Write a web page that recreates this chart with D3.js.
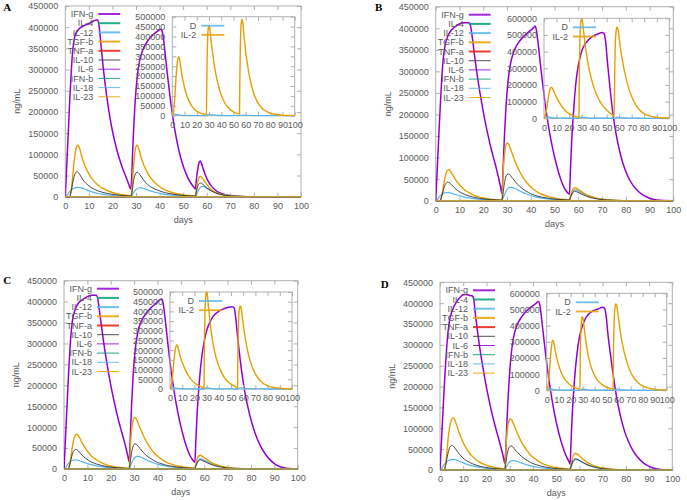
<!DOCTYPE html>
<html><head><meta charset="utf-8">
<script src="https://cdn.jsdelivr.net/npm/d3@7"></script>
<style>
body{margin:0;background:#fff}
svg{display:block}
text{font-family:"Liberation Sans",Arial,sans-serif}
</style>
</head><body>
<svg id="chart" width="687" height="500"></svg>
<script>
// ---------- tick labels / categories ----------
const xTicks = [0,10,20,30,40,50,60,70,80,90,100];
const yTicksMain = [0,50000,100000,150000,200000,250000,300000,350000,400000,450000];
const yTicksInset500 = [0,50000,100000,150000,200000,250000,300000,350000,400000,450000,500000];
const yTicksInset600 = [0,100000,200000,300000,400000,500000,600000];
const mainNames = ["IFN-g","IL-4","IL-12","TGF-b","TNF-a","IL-10","IL-6","IFN-b","IL-18","IL-23"];
const insetNames = ["D","IL-2"];
const ZERO = [[0,0],[100,0]];

// ---------- Panel A ----------
const A_IFNg = [[0,0],[0.5,60000],[1,120000],[1.5,180000],[2,240000],[2.5,292000],[3,335000],[3.5,362000],[4,378000],[5,390000],[6,397000],[7,401000],[9,406000],[11,411000],[13,417000],[13.8,417000],[14.5,395000],[15.2,355000],[16,310000],[17,262000],[18,220000],[19,185000],[20,155000],[21,130000],[22,108000],[23,89000],[24,72000],[25,57000],[26,43000],[27,28000],[27.8,18000],
[28.2,50000],[28.6,110000],[29,160000],[29.5,212000],[30,252000],[30.6,287000],[31.5,320000],[33,348000],[35,368000],[37,381000],[39,390000],[40.5,395000],[41,392000],[41.7,370000],[42.5,330000],[43.5,280000],[44.5,233000],[45.5,192000],[46.5,157000],[47.5,127000],[48.5,102000],[49.5,82000],[50.5,65000],[51.5,51000],[52.5,39000],[53.5,30000],[54.5,23000],[55.2,18000],
[55.6,40000],[56.1,62000],[56.7,79000],[57.2,84000],[57.8,78000],[58.6,64000],[59.5,50000],[60.5,38000],[61.5,29000],[62.5,22000],[64,14000],[66,8000],[68,4500],[71,2000],[75,600],[80,100],[85,0],[100,0]];
const A_TGFb = [[0,0],[1.8,0],[2.5,15000],[3,40000],[3.5,70000],[4,95000],[4.5,112000],[5,120000],[5.4,122000],[6,115000],[7,95000],[8,78000],[9,65000],[10,54000],[11,45000],[12,38000],[13,32000],[14,27000],[16,19500],[18,14000],[20,10000],[22,7000],[24,5000],[26,3500],[27.9,2500],
[28.3,20000],[28.8,60000],[29.3,95000],[29.8,115000],[30.4,122000],[31,116000],[32,96000],[33,79000],[34,66000],[35,55000],[36,46000],[37,39000],[38,33000],[39,28000],[41,20000],[43,14500],[45,10500],[47,7500],[49,5300],[51,3800],[53,2700],[55.2,2000],
[55.6,15000],[56.2,35000],[56.8,46000],[57.3,48000],[58,45000],[59,37000],[60,29000],[61,22000],[62,17000],[63.5,11000],[65,7000],[67,4000],[70,1500],[74,400],[80,0],[100,0]];
const A_IL10 = [[0,0],[1.8,0],[2.3,8000],[3,28000],[3.5,42000],[4,52000],[4.6,58000],[5.1,59000],[5.8,55000],[6.5,49000],[7.5,40000],[8.5,33000],[9.5,28000],[10.5,23500],[12,18500],[14,13500],[16,10000],[18,7500],[20,5500],[23,3500],[26,2200],[27.9,1500],
[28.3,10000],[28.9,35000],[29.5,50000],[30,56000],[30.5,58000],[31.2,55000],[32,49000],[33,41000],[34,34000],[35,28500],[36.5,22500],[38,18000],[40,13500],[42,10000],[44,7500],[46,5500],[49,3500],[52,2200],[55.2,1500],
[55.6,12000],[56.3,26000],[57,31500],[57.5,32500],[58.2,30000],[59,26000],[60,21000],[61,17000],[62,13500],[63.5,9500],[65,6500],[67,4000],[70,2000],[74,700],[80,100],[100,0]];
const A_IL12 = [[0,0],[0.4,0],[1,5000],[1.6,10000],[2.5,15500],[3.5,19500],[4.5,21500],[5.5,22000],[6.5,21500],[7.5,19500],[8.5,17500],[9.5,15000],[11,12000],[12.5,9500],[14,7500],[16,5500],[18,4000],[20,2800],[23,1700],[26,1000],[27.9,700],
[28.3,3000],[28.8,8000],[29.4,13000],[30.2,18000],[31,20500],[32,21000],[33,20000],[34,18000],[35,16000],[36.5,13000],[38,10500],[40,7800],[42,5700],[44,4200],[47,2600],[50,1600],[53,1000],[55.2,700],
[55.6,4000],[56.2,12000],[57,20000],[57.8,24000],[58.5,24500],[59.3,22500],[60.5,18500],[62,14000],[63.5,10500],[65,7500],[67,5000],[70,2500],[74,1000],[80,200],[100,0]];
const A_IL2 = [[0,0],[1,20000],[2,90000],[3,190000],[4,265000],[5,298000],[5.6,295000],[6.5,262000],[7.5,220000],[9,170000],[10.5,130000],[12,100000],[14,70000],[16,48000],[18,33000],[20,23000],[22,16000],[24,11000],[26,8000],[27.9,6000],
[28.1,120000],[28.5,300000],[29,410000],[29.6,450000],[30.2,455000],[31,420000],[32,360000],[33.5,290000],[35,230000],[37,170000],[39,122000],[41,88000],[43,63000],[45,45000],[47,32000],[49,23000],[51,16000],[53,11000],[54.9,8000],
[55.1,150000],[55.6,350000],[56.2,460000],[56.9,488000],[57.6,470000],[58.5,410000],[60,320000],[61.5,255000],[63,200000],[65,145000],[67,105000],[69,76000],[71,55000],[73,40000],[75,29000],[78,18000],[81,11000],[85,6000],[90,2500],[95,1000],[100,500]];
const A_D = [[0,0],[0.5,6000],[1.5,8000],[3,7000],[5,4500],[8,2000],[12,800],[20,200],[27.9,100],[28.3,3000],[29.5,6500],[31,5000],[34,2500],[38,1000],[45,300],[55,100],[56,1500],[58,2500],[61,1200],[66,300],[75,0],[100,0]];

// ---------- Panel B ----------
const B_IFNg = [[0,0],[0.5,55000],[1,115000],[1.5,172000],[2,228000],[2.5,278000],[3,318000],[3.5,345000],[4,362000],[5,380000],[6,391000],[7,398000],[8,403000],[10,410000],[12,413000],[14,413000],[14.7,405000],[15.5,375000],[16.5,330000],[17.5,290000],[18.5,255000],[19.5,222000],[20.5,192000],[21.5,165000],[22.5,140000],[23.5,117000],[24.5,96000],[25.5,75000],[26.5,52000],[27.3,32000],[27.9,17000],
[28.2,50000],[28.6,108000],[29,158000],[29.5,210000],[30,250000],[30.6,285000],[31.5,318000],[33,348000],[35,368000],[37,381000],[39,391000],[41,400000],[41.8,405000],[42.3,398000],[43,370000],[44,320000],[45,272000],[46,228000],[47,190000],[48,156000],[49,127000],[50,102000],[51,80000],[52,60000],[53,44000],[54,31000],[55,22000],[56.3,15000],
[56.7,70000],[57.2,135000],[57.8,190000],[58.5,243000],[59.2,283000],[60,313000],[61,338000],[62,355000],[64,371000],[66,381000],[68,386000],[70,390000],[70.8,388000],[71.5,370000],[72.3,320000],[73.3,265000],[74.3,215000],[75.3,175000],[76.5,138000],[78,102000],[79.5,75000],[81,55000],[83,36000],[85,23000],[87,14000],[89,8000],[91,4000],[93,1800],[96,400],[100,0]];
const B_TGFb = [[0,0],[1.8,0],[2.5,10000],[3,25000],[3.5,42000],[4,56000],[4.6,67000],[5.3,72000],[6,70000],[7,61000],[8,52000],[9,44000],[10,37000],[11,31000],[12,26000],[13,22000],[14,18500],[16,13000],[18,9000],[20,6200],[22,4200],[24,2900],[26,2000],[27.9,1400],
[28.2,40000],[28.6,85000],[29.1,115000],[29.6,130000],[30.1,134000],[30.7,131000],[31.5,120000],[32.5,105000],[33.5,90000],[34.5,77000],[35.5,66000],[37,52000],[38.5,41000],[40,32000],[42,23000],[44,16500],[46,12000],[48,8500],[50,6000],[52,4200],[54,3000],[56.3,2000],
[56.7,10000],[57.3,22000],[58,28000],[58.6,30000],[59.3,28500],[60.3,25000],[61.5,20500],[63,15500],[64.5,11500],[66,8500],[68,5500],[70,3500],[73,1700],[77,600],[82,100],[100,0]];
const B_IL10 = [[0,0],[1.8,0],[2.3,6000],[3,20000],[3.6,32000],[4.3,40000],[5,43000],[5.7,42000],[6.5,38000],[7.5,32000],[8.5,27000],[9.5,22500],[10.5,19000],[12,15000],[14,11000],[16,8000],[18,5800],[20,4200],[23,2700],[26,1700],[27.9,1300],
[28.3,15000],[28.9,40000],[29.5,55000],[30.2,61500],[30.8,62000],[31.5,58000],[32.5,51000],[33.5,44000],[34.5,38000],[36,30000],[37.5,24000],[39,19000],[41,14000],[43,10500],[45,7800],[48,5000],[51,3200],[54,2100],[56.3,1500],
[56.7,8000],[57.3,16000],[58,20500],[58.6,22000],[59.3,21000],[60.3,18500],[61.5,15000],[63,11500],[64.5,8500],[66,6200],[68,4000],[70,2600],[73,1300],[77,500],[82,100],[100,0]];
const B_IL12 = [[0,0],[0.4,0],[1,5000],[1.8,10500],[2.7,15000],[3.7,18000],[4.8,19000],[6,18000],[7,16500],[8.5,14000],[10,11500],[12,8800],[14,6700],[16,5000],[18,3700],[21,2400],[24,1500],[27.9,900],
[28.3,5000],[28.9,14000],[29.6,22000],[30.4,28000],[31.2,31000],[32,31000],[33,29000],[34.5,25000],[36,21000],[38,16000],[40,12000],[42,9000],[44,6700],[47,4300],[50,2800],[53,1800],[56.3,1100],
[56.7,6000],[57.3,15000],[58,22000],[58.7,25000],[59.4,24500],[60.5,21500],[62,17000],[63.5,13000],[65,9800],[67,6700],[69,4500],[72,2400],[76,1000],[82,200],[100,0]];
const B_IL2 = [[0,0],[1,15000],[2,50000],[3,100000],[4,150000],[5,180000],[6,186000],[7,175000],[8.5,150000],[10,125000],[11.5,104000],[13,85000],[15,63000],[17,46000],[19,33000],[21,23000],[23,16000],[25,11000],[27.9,6000],
[28.1,200000],[28.6,450000],[29.2,560000],[29.8,595000],[30.5,590000],[31.5,530000],[32.5,460000],[34,380000],[35.5,315000],[37,262000],[39,205000],[41,160000],[43,125000],[45,97000],[47,75000],[49,57000],[51,42000],[53,29000],[55,18000],[56,12000],
[56.3,200000],[56.8,420000],[57.5,520000],[58.2,546000],[59,535000],[60,480000],[61,420000],[62.5,350000],[64,290000],[66,225000],[68,172000],[70,130000],[72,98000],[74,72000],[76,53000],[78,38000],[81,24000],[84,15000],[88,8000],[92,4000],[96,2000],[100,1000]];
const B_D = [[0,0],[0.5,7000],[1.5,9000],[3,8000],[5,5500],[8,3000],[12,1200],[20,300],[28,100],[28.5,3000],[30,6500],[32,5000],[35,2500],[40,800],[50,200],[56.3,100],[57,3000],[58.5,6500],[60.5,4500],[64,1800],[70,500],[80,100],[100,0]];

// ---------- Panel C ----------
const C_IFNg = [[0,0],[0.5,58000],[1,118000],[1.5,176000],[2,232000],[2.5,282000],[3,322000],[3.5,350000],[4,366000],[5,384000],[6,395000],[7,401000],[8,405000],[10,412000],[12,415000],[13.8,415000],[14.5,405000],[15.3,372000],[16.3,330000],[17.3,290000],[18.3,255000],[19.3,222000],[20.3,192000],[21.3,165000],[22.3,140000],[23.3,117000],[24.3,96000],[25.3,76000],[26.3,55000],[27.2,34000],[27.9,17000],
[28.2,50000],[28.6,110000],[29,162000],[29.5,215000],[30,256000],[30.6,291000],[31.5,325000],[33,352000],[35,371000],[37,384000],[39,394000],[41,404000],[41.8,406000],[42.3,400000],[43,372000],[44,322000],[45,272000],[46,228000],[47,190000],[48,156000],[49,127000],[50,102000],[51,80000],[52,60000],[53,44000],[54,31000],[55,22000],[56,16000],
[56.4,65000],[56.9,125000],[57.5,178000],[58.2,228000],[59,270000],[60,305000],[61,330000],[62.5,352000],[64,366000],[66,376000],[68,382000],[70,386000],[72,388000],[72.8,385000],[73.5,360000],[74.3,315000],[75.3,265000],[76.3,222000],[77.5,180000],[79,140000],[80.5,108000],[82,82000],[84,56000],[86,37000],[88,23000],[90,13000],[92,6500],[94,3000],[97,800],[100,0]];
const C_TGFb = [[0,0],[1.8,0],[2.5,12000],[3,30000],[3.5,50000],[4,66000],[4.6,78000],[5.3,83000],[6,81000],[7,71000],[8,60000],[9,51000],[10,43000],[11,36000],[12,30000],[13,25500],[14,21500],[16,15000],[18,10500],[20,7300],[22,5000],[24,3500],[26,2400],[27.9,1700],
[28.2,30000],[28.6,72000],[29.1,102000],[29.7,118000],[30.3,123000],[30.9,120000],[31.7,110000],[32.7,96000],[33.7,83000],[34.7,71000],[35.7,61000],[37,50000],[38.5,39000],[40,31000],[42,22500],[44,16000],[46,11500],[48,8200],[50,5800],[52,4100],[54,2900],[56,2000],
[56.4,11000],[57,24000],[57.6,31000],[58.2,33000],[58.9,31500],[59.9,27500],[61,23000],[62.5,17500],[64,13000],[65.5,9700],[67.5,6300],[70,3600],[73,1800],[77,600],[82,100],[100,0]];
const C_IL10 = [[0,0],[1.8,0],[2.3,7000],[3,23000],[3.6,36000],[4.3,44000],[5,47000],[5.7,45500],[6.5,41000],[7.5,34500],[8.5,29000],[9.5,24500],[10.5,20500],[12,16000],[14,11800],[16,8600],[18,6200],[20,4500],[23,2900],[26,1800],[27.9,1300],
[28.3,14000],[28.9,39000],[29.5,53000],[30.1,59500],[30.7,60000],[31.4,56500],[32.4,49500],[33.4,43000],[34.4,37000],[36,29000],[37.5,23500],[39,18500],[41,13700],[43,10200],[45,7600],[48,4900],[51,3100],[54,2000],[56,1500],
[56.4,8000],[57,16000],[57.6,20500],[58.2,22000],[58.9,21000],[59.9,18500],[61,15500],[62.5,11800],[64,8800],[65.5,6500],[67.5,4200],[70,2400],[73,1200],[77,400],[82,100],[100,0]];
const C_IL12 = [[0,0],[0.4,0],[1,6000],[1.8,12500],[2.7,17500],[3.7,21000],[4.8,22000],[6,21000],[7,19000],[8.5,16000],[10,13000],[12,10000],[14,7500],[16,5600],[18,4100],[21,2600],[24,1700],[27.9,1000],
[28.3,5000],[28.9,14000],[29.6,22000],[30.4,27500],[31.2,30000],[32,30000],[33,28000],[34.5,24000],[36,20000],[38,15500],[40,11700],[42,8800],[44,6500],[47,4200],[50,2700],[53,1700],[56,1100],
[56.4,6000],[57,14000],[57.7,21000],[58.4,24000],[59.1,23500],[60.2,20500],[61.7,16300],[63.2,12500],[64.7,9400],[66.7,6400],[69,4000],[72,2200],[76,900],[82,200],[100,0]];
const C_IL2 = [[0,0],[1,15000],[2,60000],[3,130000],[4,190000],[5,222000],[5.7,227000],[6.5,215000],[7.5,190000],[9,155000],[11,122000],[13,92000],[15,70000],[17,52000],[19,38000],[21,27000],[23,19000],[25,13000],[27.9,7000],
[28.1,170000],[28.6,380000],[29.2,470000],[29.8,500000],[30.4,495000],[31.3,440000],[32.3,375000],[33.5,310000],[35,245000],[36.5,195000],[38.3,150000],[40,117000],[42,88000],[44,65000],[46,48000],[48,35000],[50,25000],[52,17000],[54,11000],[55.4,7000],
[55.6,150000],[56.1,330000],[56.8,410000],[57.6,428000],[58.4,415000],[59.5,360000],[61,290000],[62.5,232000],[64,185000],[66,140000],[68,105000],[70,78000],[72,58000],[74,43000],[76,31000],[79,20000],[82,12500],[86,7000],[90,3500],[95,1500],[100,700]];
const C_D = [[0,0],[0.5,6000],[1.5,8000],[3,7000],[5,4500],[8,2000],[12,800],[20,200],[28,100],[28.5,3000],[30,6000],[32,4500],[35,2000],[40,700],[50,200],[55.6,100],[56.3,2500],[57.8,6000],[59.8,4000],[63,1500],[70,400],[80,100],[100,0]];

// ---------- Panel D ----------
const D_IFNg = [[0,0],[0.5,55000],[1,110000],[1.5,165000],[2,215000],[2.5,262000],[3,302000],[3.5,333000],[4,355000],[5,378000],[6,392000],[7,402000],[8,410000],[9,416000],[10,420000],[11,421000],[12,420000],[13,418000],[14,417000],[14.5,410000],[15.2,375000],[16.2,330000],[17.2,290000],[18.2,255000],[19.2,222000],[20.2,192000],[21.2,165000],[22.2,140000],[23.2,117000],[24.2,96000],[25.2,76000],[26.2,55000],[27.2,33000],[27.9,16000],
[28.3,45000],[28.7,100000],[29.1,150000],[29.6,200000],[30.1,243000],[30.7,280000],[31.5,313000],[33,345000],[35,366000],[37,380000],[39,390000],[41,398000],[42.4,404000],[43,395000],[43.7,365000],[44.7,315000],[45.7,267000],[46.7,224000],[47.7,186000],[48.7,153000],[49.7,124000],[50.7,99000],[51.7,77000],[52.7,58000],[53.7,42000],[54.7,29000],[55.7,18000],[56,14000],
[56.4,65000],[56.9,130000],[57.5,185000],[58.2,237000],[59,280000],[60,318000],[61,340000],[62.5,362000],[64,374000],[66,382000],[68,386000],[70,390000],[70.8,388000],[71.5,370000],[72.3,325000],[73.3,280000],[74.3,238000],[75.3,200000],[76.5,160000],[78,122000],[79.5,92000],[81,70000],[83,47000],[85,31000],[87,19500],[89,11500],[91,6000],[93,3000],[96,800],[100,0]];
const D_TGFb = [[0,0],[1.8,0],[2.5,18000],[3,45000],[3.5,75000],[4,98000],[4.6,115000],[5.3,124000],[5.8,125000],[6.5,118000],[7.5,102000],[8.5,86000],[9.5,72000],[10.5,60000],[11.5,50000],[12.5,42000],[13.5,35000],[15,27000],[17,19000],[19,13500],[21,9500],[23,6700],[25,4700],[27.9,2800],
[28.2,30000],[28.6,72000],[29.1,102000],[29.7,118000],[30.3,123000],[30.9,120000],[31.7,110000],[32.7,96000],[33.7,83000],[34.7,71000],[35.7,61000],[37,50000],[38.5,39000],[40,31000],[42,22500],[44,16000],[46,11500],[48,8200],[50,5800],[52,4100],[54,2900],[56,2000],
[56.4,13000],[57,29000],[57.6,37500],[58.3,40000],[59,38500],[60,34000],[61.2,28000],[62.5,22000],[64,16500],[65.5,12300],[67.5,8000],[70,4700],[73,2300],[77,800],[82,150],[100,0]];
const D_IL10 = [[0,0],[1.8,0],[2.3,8000],[3,28000],[3.6,44000],[4.3,55000],[5,59000],[5.7,57500],[6.5,52000],[7.5,44000],[8.5,37000],[9.5,31000],[10.5,26000],[12,20500],[14,15000],[16,11000],[18,8000],[20,5800],[23,3700],[26,2300],[27.9,1700],
[28.3,14000],[28.9,38000],[29.5,51000],[30.1,57000],[30.7,58000],[31.4,55000],[32.4,48000],[33.4,42000],[34.4,36000],[36,28500],[37.5,23000],[39,18000],[41,13400],[43,10000],[45,7400],[48,4800],[51,3000],[54,2000],[56,1500],
[56.4,9000],[57,19000],[57.6,25000],[58.3,27000],[59,26000],[60,23000],[61.2,19000],[62.5,15000],[64,11300],[65.5,8400],[67.5,5500],[70,3200],[73,1600],[77,500],[82,100],[100,0]];
const D_IL12 = [[0,0],[0.4,0],[1,6500],[1.8,13500],[2.7,19000],[3.7,23000],[4.8,25000],[5.8,25500],[7,24000],[8.5,20500],[10,17000],[12,13000],[14,9800],[16,7300],[18,5400],[21,3500],[24,2200],[27.9,1300],
[28.3,4000],[28.9,11000],[29.6,17000],[30.4,21000],[31.2,22500],[32,22500],[33,21000],[34.5,18000],[36,15000],[38,11600],[40,8800],[42,6600],[44,4900],[47,3200],[50,2000],[53,1300],[56,800],
[56.4,6000],[57,15000],[57.7,22500],[58.4,25500],[59.1,25000],[60.2,22000],[61.7,17500],[63.2,13500],[64.7,10200],[66.7,7000],[69,4400],[72,2400],[76,1000],[82,200],[100,0]];
const D_IL2 = [[0,0],[1,20000],[2,90000],[3,190000],[4,270000],[4.8,308000],[5.5,305000],[6.5,270000],[7.5,230000],[9,182000],[10.5,143000],[12,112000],[14,82000],[16,60000],[18,43000],[20,31000],[22,22000],[24,15000],[26,10000],[27.7,6500],
[27.9,160000],[28.4,350000],[29,430000],[29.6,456000],[30.3,445000],[31.2,390000],[32.3,320000],[33.5,260000],[35,200000],[37,145000],[39,105000],[41,77000],[43,57000],[45,42000],[47,31000],[49,23000],[51,17000],[53,12000],[55.4,7500],
[55.6,180000],[56.1,400000],[56.8,505000],[57.6,534000],[58.4,525000],[59.5,465000],[61,380000],[62.5,310000],[64,255000],[66,195000],[68,148000],[70,112000],[72,85000],[74,64000],[76,48000],[78,36000],[81,24000],[84,15500],[88,8500],[92,4500],[96,2200],[100,1000]];
const D_D = [[0,0],[0.5,7000],[1.5,9000],[3,8000],[5,5500],[8,3000],[12,1200],[20,300],[28,100],[28.5,3000],[30,6500],[32,5000],[35,2500],[40,800],[50,200],[56,100],[56.8,3000],[58.5,6500],[60.5,4500],[64,1800],[70,500],[80,100],[100,0]];

// ---------- styles ----------
const mainStyles = [
  {c:"#9400d3", w:1.5, lw:2}, {c:"#009e73", w:1.5, lw:2}, {c:"#56b4e9", w:1.2, lw:2}, {c:"#e69f00", w:1.4, lw:2}, {c:"#e51e10", w:1.4, lw:2},
  {c:"#333333", w:0.9, lw:1}, {c:"#9400d3", w:1, lw:1}, {c:"#009e73", w:1, lw:1}, {c:"#56b4e9", w:1, lw:1}, {c:"#e69f00", w:1.1, lw:1}
];
const insetStyles = [{c:"#56b4e9", w:1.3, lw:1.8}, {c:"#e69f00", w:1.4, lw:1.8}];

const panels = [
  {id:"A", letter:[3.3,10.8], main:{l:65.3,r:301,t:6,b:196.7},
   inset:{l:172.3,r:294.7,t:16.7,b:115.7,ticks:yTicksInset500},
   mainData:[A_IFNg,ZERO,A_IL12,A_TGFb,ZERO,A_IL10,ZERO,ZERO,ZERO,ZERO], insetData:[A_D,A_IL2]},
  {id:"B", letter:[375,10.8], main:{l:435.7,r:673.3,t:6.7,b:200.7},
   inset:{l:544,r:669.3,t:18.3,b:118.3,ticks:yTicksInset600},
   mainData:[B_IFNg,ZERO,B_IL12,B_TGFb,ZERO,B_IL10,ZERO,ZERO,ZERO,ZERO], insetData:[B_D,B_IL2]},
  {id:"C", letter:[3.3,283.5], main:{l:64,r:297.7,t:280.7,b:469},
   inset:{l:170,r:292,t:292,b:389,ticks:yTicksInset500},
   mainData:[C_IFNg,ZERO,C_IL12,C_TGFb,ZERO,C_IL10,ZERO,ZERO,ZERO,ZERO], insetData:[C_D,C_IL2]},
  {id:"D", letter:[380.7,287.5], main:{l:440,r:672.3,t:282.3,b:470},
   inset:{l:546.7,r:666.7,t:293.3,b:390.3,ticks:yTicksInset600},
   mainData:[D_IFNg,ZERO,D_IL12,D_TGFb,ZERO,D_IL10,ZERO,ZERO,ZERO,ZERO], insetData:[D_D,D_IL2]}
];

const svg = d3.select("#chart");
const BORDER = "#b0b0b0", TXT = "#5a5a5a";
const FS = 9;

function frameAxes(g, box, x, y, yt) {
  g.append("rect").attr("x",box.l).attr("y",box.t).attr("width",box.r-box.l).attr("height",box.b-box.t)
    .attr("fill","none").attr("stroke",BORDER).attr("stroke-width",1);
  const tl = 4;
  const bottom = d3.axisBottom(x).tickValues(xTicks).tickSizeInner(-tl).tickSizeOuter(0).tickPadding(6).tickFormat(d3.format("d"));
  const top = d3.axisTop(x).tickValues(xTicks).tickSizeInner(-tl).tickSizeOuter(0).tickFormat("");
  const left = d3.axisLeft(y).tickValues(yt).tickSizeInner(-tl).tickSizeOuter(0).tickPadding(7).tickFormat(d3.format("d"));
  const right = d3.axisRight(y).tickValues(yt).tickSizeInner(-tl).tickSizeOuter(0).tickFormat("");
  [[bottom,`translate(0,${box.b})`],[top,`translate(0,${box.t})`],[left,`translate(${box.l},0)`],[right,`translate(${box.r},0)`]]
    .forEach(([ax,tr])=>{
      const a = g.append("g").attr("transform",tr).call(ax);
      a.select(".domain").remove();
      a.selectAll("line").attr("stroke",BORDER);
      a.selectAll("text").attr("fill",TXT).style("font-size",FS+"px").style("font-family","'Liberation Sans',Arial,sans-serif");
    });
}

panels.forEach((p)=>{
  const g = svg.append("g");
  const m = p.main;
  const x = d3.scaleLinear().domain([0,100]).range([m.l,m.r]);
  const y = d3.scaleLinear().domain([0,450000]).range([m.b,m.t]);
  const clipId = "clip"+p.id;
  svg.append("clipPath").attr("id",clipId).append("rect").attr("x",m.l).attr("y",m.t).attr("width",m.r-m.l).attr("height",m.b-m.t+1);

  frameAxes(g, m, x, y, yTicksMain);

  g.append("text").attr("transform",`translate(${m.l-48},${(m.t+m.b)/2}) rotate(-90)`)
    .attr("text-anchor","middle").attr("dy","0.35em").attr("fill",TXT).style("font-size",FS+"px").text("ng/mL");
  g.append("text").attr("x",(m.l+m.r)/2).attr("y",m.b+26).attr("text-anchor","middle").attr("fill",TXT)
    .style("font-size",FS+"px").text("days");
  g.append("text").attr("x",p.letter[0]).attr("y",p.letter[1]).attr("fill","#000")
    .style("font-family","'Liberation Serif','Times New Roman',serif").style("font-weight","bold").style("font-size","11px").text(p.id);

  const line = d3.line().x(d=>x(d[0])).y(d=>y(d[1])).curve(d3.curveMonotoneX);
  const lg = g.append("g").attr("clip-path",`url(#${clipId})`);
  p.mainData.forEach((data,i)=>{
    lg.append("path").datum(data).attr("d",line).attr("fill","none")
      .attr("stroke",mainStyles[i].c).attr("stroke-width",mainStyles[i].w).attr("stroke-linejoin","round");
  });

  mainNames.forEach((name,i)=>{
    const yy = m.t + 8 + i*9.2;
    g.append("text").attr("x",m.l+28).attr("y",yy).attr("dy","0.35em").attr("text-anchor","end")
      .attr("fill",TXT).style("font-size",FS+"px").text(name);
    g.append("line").attr("x1",m.l+33).attr("x2",m.l+55).attr("y1",yy).attr("y2",yy)
      .attr("stroke",mainStyles[i].c).attr("stroke-width",mainStyles[i].lw).attr("stroke-opacity",0.85);
  });

  const n = p.inset;
  const xi = d3.scaleLinear().domain([0,100]).range([n.l,n.r]);
  const yi = d3.scaleLinear().domain([0,n.ticks[n.ticks.length-1]]).range([n.b,n.t]);
  const ig = svg.append("g");
  frameAxes(ig, n, xi, yi, n.ticks);
  const clipI = "clipI"+p.id;
  svg.append("clipPath").attr("id",clipI).append("rect").attr("x",n.l).attr("y",n.t-1).attr("width",n.r-n.l).attr("height",n.b-n.t+2);
  const li = d3.line().x(d=>xi(d[0])).y(d=>yi(d[1])).curve(d3.curveMonotoneX);
  const ilg = ig.append("g").attr("clip-path",`url(#${clipI})`);
  p.insetData.forEach((data,i)=>{
    ilg.append("path").datum(data).attr("d",li).attr("fill","none")
      .attr("stroke",insetStyles[i].c).attr("stroke-width",insetStyles[i].w).attr("stroke-linejoin","round");
  });
  insetNames.forEach((name,i)=>{
    const yy = n.t + 9 + i*9.2;
    ig.append("text").attr("x",n.l+24).attr("y",yy).attr("dy","0.35em").attr("text-anchor","end")
      .attr("fill",TXT).style("font-size",FS+"px").text(name);
    ig.append("line").attr("x1",n.l+29).attr("x2",n.l+52).attr("y1",yy).attr("y2",yy)
      .attr("stroke",insetStyles[i].c).attr("stroke-width",insetStyles[i].lw).attr("stroke-opacity",0.85);
  });
});
</script>
</body></html>
